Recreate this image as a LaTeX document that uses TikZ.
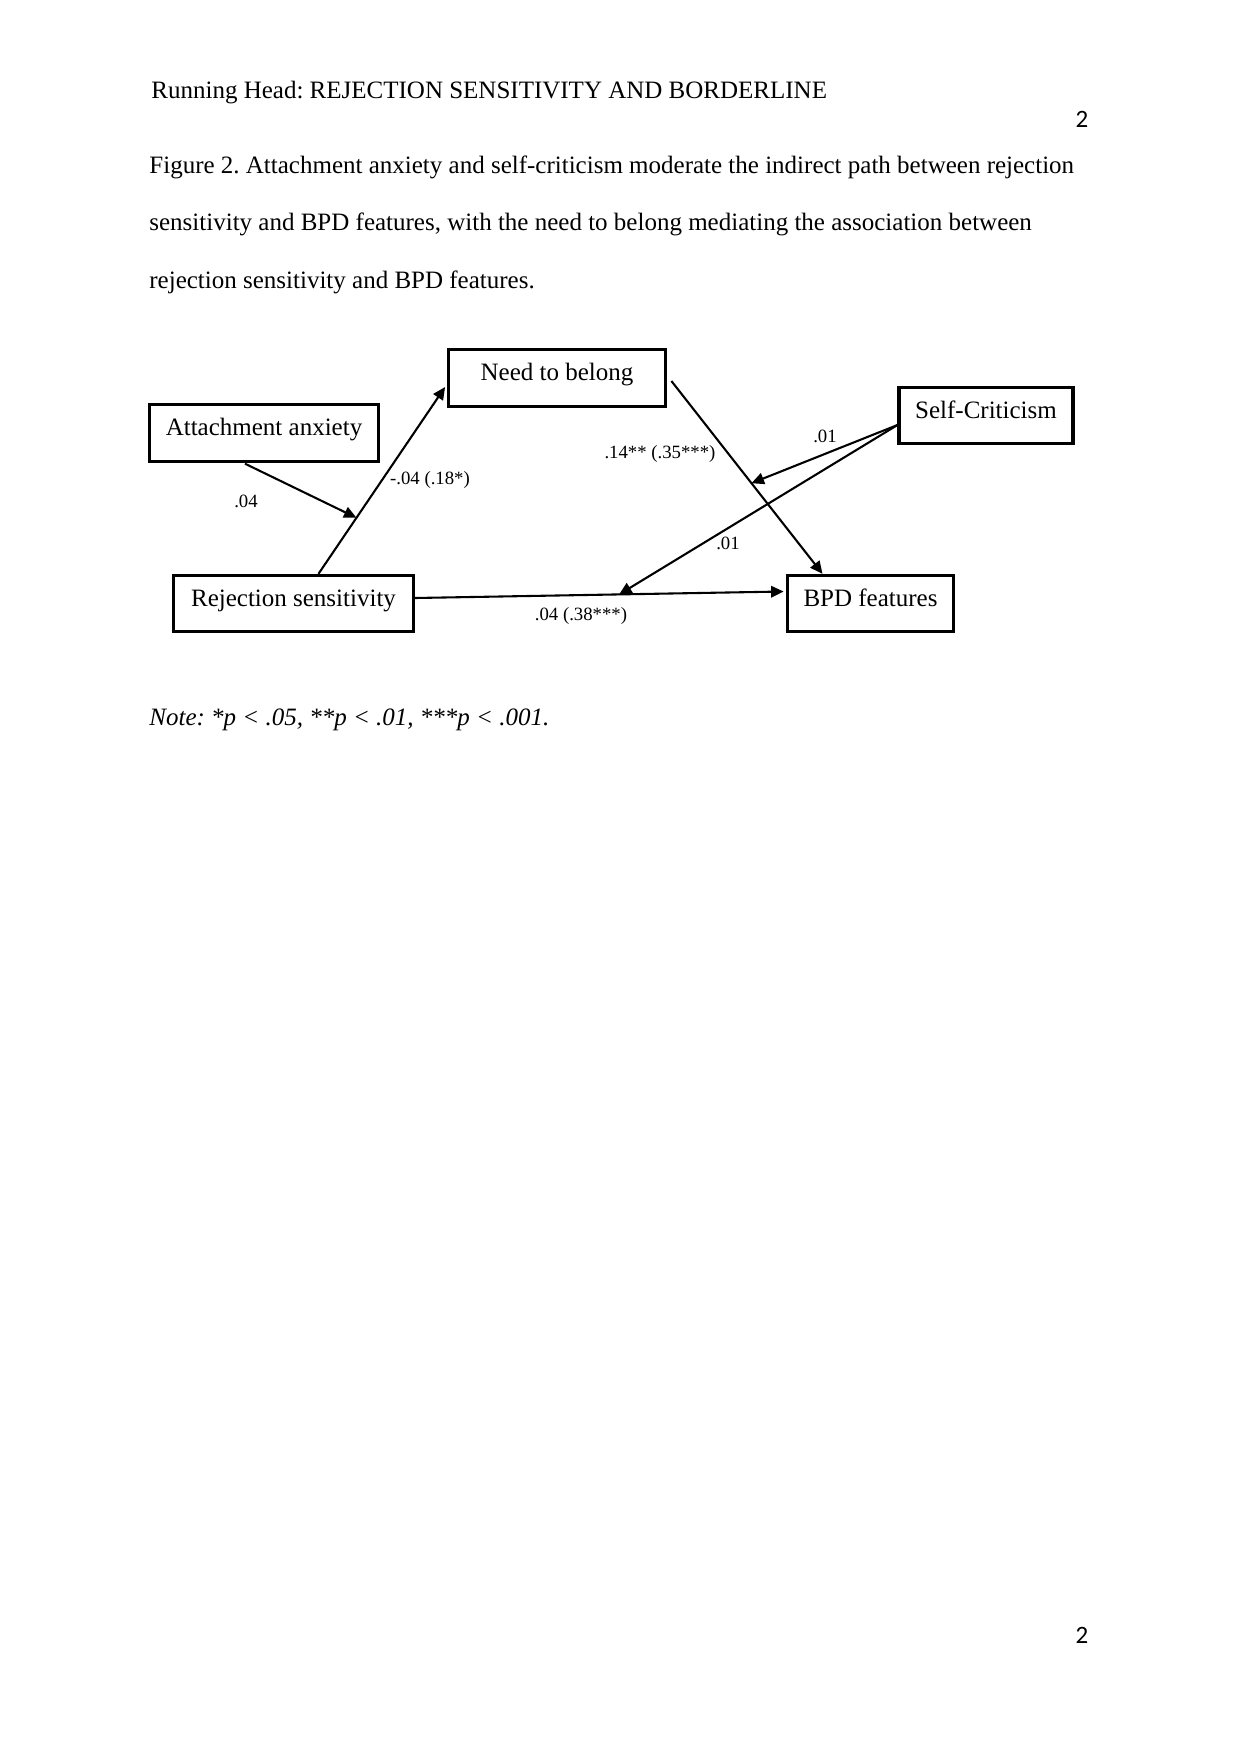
\documentclass[tikz,border=0pt]{standalone}
\usepackage{fontspec}
\setmainfont{Liberation Serif}
\newfontfamily\pagenumfont{Carlito}
\usetikzlibrary{arrows.meta,calc,positioning}
\frenchspacing
\tikzstyle{ndbox} = [draw, line width=1.5pt, shape=rectangle, minimum height=27pt, inner sep=0pt, text height=8pt, text depth=5.2pt, font=\fontsize{12}{14}\selectfont]
\tikzstyle{arpath} = [style={-{Triangle[length=6pt,width=5.5pt]},line width=1pt}]
\tikzstyle{coef} = [inner sep=0pt, font=\fontsize{9}{11}\selectfont]
\tikzstyle{txtline} = [anchor=base west, inner sep=0pt, font=\fontsize{12}{14}\selectfont]
\tikzstyle{pgnum} = [anchor=base, inner sep=0pt, font=\pagenumfont\fontsize{12}{14}\selectfont]

\begin{document}
\begin{tikzpicture}[x=0.48pt, y=-0.48pt]
	\useasboundingbox (0,0) rectangle (1240,1754);
	% page text
	\node[txtline] (head) at (151,98.5) {Running Head: REJECTION SENSITIVITY AND BORDERLINE};
	\node[pgnum] (pgtop) at (1082,127) {2};
	\node[txtline] (cap1) at (149,173.5) {Figure 2. Attachment anxiety and self-criticism moderate the indirect path between rejection};
	\node[txtline] (cap2) at (149,230.5) {sensitivity and BPD features, with the need to belong mediating the association between};
	\node[txtline] (cap3) at (149,288.5) {rejection sensitivity and BPD features.};
	\node[txtline, font=\fontsize{12}{14}\selectfont\itshape] (note) at (149,725.5) {Note: *p < .05, **p < .01, ***p < .001.};
	\node[pgnum] (pgbot) at (1082,1643) {2};
	% model boxes
	\node[ndbox, minimum width=104pt] (nb) at (557,378) {Need to belong};
	\node[ndbox, minimum width=110pt] (aa) at (264,433) {Attachment anxiety};
	\node[ndbox, minimum width=115pt] (rs) at (293.5,603.5) {Rejection sensitivity};
	\node[ndbox, minimum width=83.5pt] (sc) at (986,415.5) {Self-Criticism};
	\node[ndbox, minimum width=80pt] (bpd) at (870.5,603.5) {BPD features};
	% path ends
	\coordinate (rsup) at ($(rs.north)+(25,0)$);
	\coordinate (nbin) at ($(nb.west)+(-2,9)$);
	\coordinate (nbout) at ($(nb.east)+(4.5,3)$);
	\coordinate (bpdtop) at ($(bpd.north)+(-48,0)$);
	\coordinate (rsout) at ($(rs.east)+(0,-5.5)$);
	\coordinate (bpdin) at ($(bpd.west)+(-2,-12)$);
	\coordinate (aaout) at ($(aa.south)+(-19,1)$);
	\coordinate (scout) at ($(sc.west)+(0,9.5)$);
	\coordinate (moda) at ($(rsup)!0.30!(nbin)$);
	\coordinate (modb) at ($(nbout)!0.53!(bpdtop)$);
	\coordinate (modc) at ($(rsout)!0.554!(bpdin)$);
	% arrows
	\draw[arpath] (rsup) to (nbin);
	\draw[arpath] (nbout) to (bpdtop);
	\draw[arpath] (rsout) to (bpdin);
	\draw[arpath] (aaout) to (moda);
	\draw[arpath] (scout) to (modb);
	\draw[arpath] (scout) to (modc);
	% coefficients
	\node[coef] (laa) at (246,501) {.04};
	\node[coef] (lrsnb) at (430,480) {-.04 (.18*)};
	\node[coef] (lnbbpd) at (660,454) {.14** (.35***)};
	\node[coef] (lsc1) at (825,436) {.01};
	\node[coef] (lsc2) at (728,543) {.01};
	\node[coef] (lrsbpd) at (581,616) {.04 (.38***)};
\end{tikzpicture}
\end{document}
